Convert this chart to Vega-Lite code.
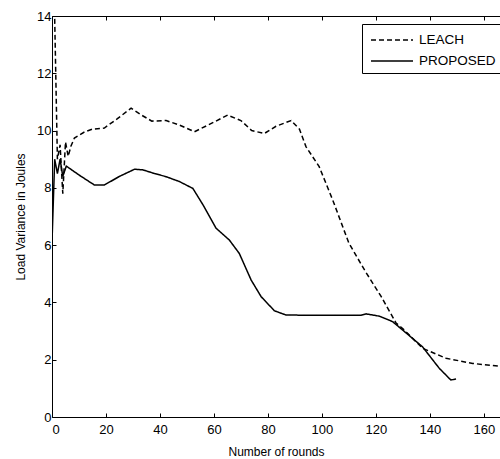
{
  "$schema": "https://vega.github.io/schema/vega-lite/v6.json",
  "width": 448,
  "height": 401,
  "autosize": {"type": "none"},
  "padding": {"left": 52, "top": 16, "right": 0, "bottom": 42},
  "background": "white",
  "config": {
    "font": "Liberation Sans",
    "view": {"stroke": "black", "strokeWidth": 1},
    "axis": {
      "grid": false,
      "domain": false,
      "tickColor": "black",
      "tickSize": -4,
      "labelColor": "black",
      "labelFontSize": 13,
      "labelFont": "Liberation Sans",
      "titleFont": "Liberation Sans",
      "titleFontSize": 12,
      "titleFontWeight": "normal",
      "titleColor": "black"
    }
  },
  "datasets": {
    "curves": [
      {"series": "LEACH", "r": 1, "v": 13.9},
      {"series": "LEACH", "r": 2, "v": 9.0},
      {"series": "LEACH", "r": 3, "v": 9.5},
      {"series": "LEACH", "r": 4, "v": 7.8},
      {"series": "LEACH", "r": 5, "v": 9.6},
      {"series": "LEACH", "r": 6, "v": 9.1},
      {"series": "LEACH", "r": 7, "v": 9.45},
      {"series": "LEACH", "r": 8.3, "v": 9.74},
      {"series": "LEACH", "r": 12, "v": 9.95},
      {"series": "LEACH", "r": 15, "v": 10.05},
      {"series": "LEACH", "r": 19.4, "v": 10.09},
      {"series": "LEACH", "r": 24, "v": 10.4},
      {"series": "LEACH", "r": 29.3, "v": 10.78},
      {"series": "LEACH", "r": 33, "v": 10.55},
      {"series": "LEACH", "r": 37, "v": 10.33},
      {"series": "LEACH", "r": 42.3, "v": 10.35},
      {"series": "LEACH", "r": 47, "v": 10.2},
      {"series": "LEACH", "r": 52.8, "v": 9.96},
      {"series": "LEACH", "r": 58, "v": 10.2},
      {"series": "LEACH", "r": 65.1, "v": 10.54},
      {"series": "LEACH", "r": 70, "v": 10.35},
      {"series": "LEACH", "r": 74, "v": 10.0},
      {"series": "LEACH", "r": 78.7, "v": 9.9},
      {"series": "LEACH", "r": 83, "v": 10.15},
      {"series": "LEACH", "r": 88.6, "v": 10.35},
      {"series": "LEACH", "r": 91.7, "v": 10.05},
      {"series": "LEACH", "r": 94.1, "v": 9.44},
      {"series": "LEACH", "r": 99, "v": 8.74},
      {"series": "LEACH", "r": 104, "v": 7.58},
      {"series": "LEACH", "r": 110, "v": 6.07},
      {"series": "LEACH", "r": 116, "v": 5.1},
      {"series": "LEACH", "r": 122, "v": 4.2},
      {"series": "LEACH", "r": 127.5, "v": 3.28},
      {"series": "LEACH", "r": 130.5, "v": 3.04},
      {"series": "LEACH", "r": 137.3, "v": 2.4},
      {"series": "LEACH", "r": 146, "v": 2.05},
      {"series": "LEACH", "r": 155.9, "v": 1.87},
      {"series": "LEACH", "r": 166, "v": 1.77},
      {"series": "PROPOSED", "r": 0, "v": 6.1},
      {"series": "PROPOSED", "r": 1, "v": 9.0},
      {"series": "PROPOSED", "r": 2, "v": 8.5},
      {"series": "PROPOSED", "r": 3, "v": 9.0},
      {"series": "PROPOSED", "r": 4, "v": 8.4},
      {"series": "PROPOSED", "r": 5.3, "v": 8.76},
      {"series": "PROPOSED", "r": 10, "v": 8.45},
      {"series": "PROPOSED", "r": 15.7, "v": 8.1},
      {"series": "PROPOSED", "r": 19.4, "v": 8.1},
      {"series": "PROPOSED", "r": 25, "v": 8.4},
      {"series": "PROPOSED", "r": 30.6, "v": 8.65},
      {"series": "PROPOSED", "r": 33.6, "v": 8.63},
      {"series": "PROPOSED", "r": 38, "v": 8.5},
      {"series": "PROPOSED", "r": 42.3, "v": 8.39},
      {"series": "PROPOSED", "r": 47.2, "v": 8.22},
      {"series": "PROPOSED", "r": 52.2, "v": 7.98},
      {"series": "PROPOSED", "r": 56, "v": 7.4},
      {"series": "PROPOSED", "r": 60.8, "v": 6.59},
      {"series": "PROPOSED", "r": 65.7, "v": 6.18},
      {"series": "PROPOSED", "r": 69.4, "v": 5.71},
      {"series": "PROPOSED", "r": 73.8, "v": 4.78},
      {"series": "PROPOSED", "r": 77.5, "v": 4.2},
      {"series": "PROPOSED", "r": 82.4, "v": 3.71},
      {"series": "PROPOSED", "r": 86.7, "v": 3.56},
      {"series": "PROPOSED", "r": 100, "v": 3.55},
      {"series": "PROPOSED", "r": 114.5, "v": 3.55},
      {"series": "PROPOSED", "r": 116.4, "v": 3.6},
      {"series": "PROPOSED", "r": 121.3, "v": 3.52},
      {"series": "PROPOSED", "r": 126.2, "v": 3.33},
      {"series": "PROPOSED", "r": 131, "v": 2.95},
      {"series": "PROPOSED", "r": 137.3, "v": 2.45},
      {"series": "PROPOSED", "r": 143.5, "v": 1.7},
      {"series": "PROPOSED", "r": 147.8, "v": 1.29},
      {"series": "PROPOSED", "r": 149.7, "v": 1.33}
    ]
  },
  "data": {"name": "curves"},
  "layer": [
    {
      "mark": {"type": "line", "color": "black", "strokeWidth": 1.5, "clip": true},
      "encoding": {
        "x": {
          "field": "r", "type": "quantitative",
          "scale": {"domain": [0, 166], "nice": false, "zero": false},
          "axis": {"orient": "bottom", "values": [0, 20, 40, 60, 80, 100, 120, 140, 160], "title": "Number of rounds", "labelPadding": 10, "titlePadding": 10}
        },
        "y": {
          "field": "v", "type": "quantitative",
          "scale": {"domain": [0, 14], "nice": false},
          "axis": {"orient": "left", "values": [0, 2, 4, 6, 8, 10, 12, 14], "title": "Load Variance in Joules", "labelPadding": 5, "titlePadding": 9}
        },
        "strokeDash": {
          "field": "series", "type": "nominal",
          "scale": {"domain": ["LEACH", "PROPOSED"], "range": [[5, 3], [1, 0]]},
          "legend": {
            "title": null,
            "orient": "none",
            "legendX": 310,
            "legendY": 8,
            "strokeColor": "black",
            "fillColor": "white",
            "padding": 5,
            "rowPadding": 3,
            "symbolType": "M-0.7,0L3.5,0",
            "symbolSize": 400,
            "symbolStrokeWidth": 1.5,
            "symbolStrokeColor": "black",
            "symbolFillColor": "transparent",
            "labelFontSize": 13.5,
            "labelColor": "black",
            "labelFont": "Liberation Sans",
            "labelOffset": 30
          }
        },
        "order": {"field": "r", "type": "quantitative"}
      }
    },
    {
      "mark": {"type": "point", "opacity": 0},
      "encoding": {
        "x": {
          "field": "r", "type": "quantitative",
          "axis": {"orient": "top", "values": [0, 20, 40, 60, 80, 100, 120, 140, 160], "labels": false, "title": null}
        },
        "y": {
          "field": "v", "type": "quantitative",
          "axis": null
        }
      }
    }
  ],
  "resolve": {"axis": {"x": "independent", "y": "independent"}}
}
